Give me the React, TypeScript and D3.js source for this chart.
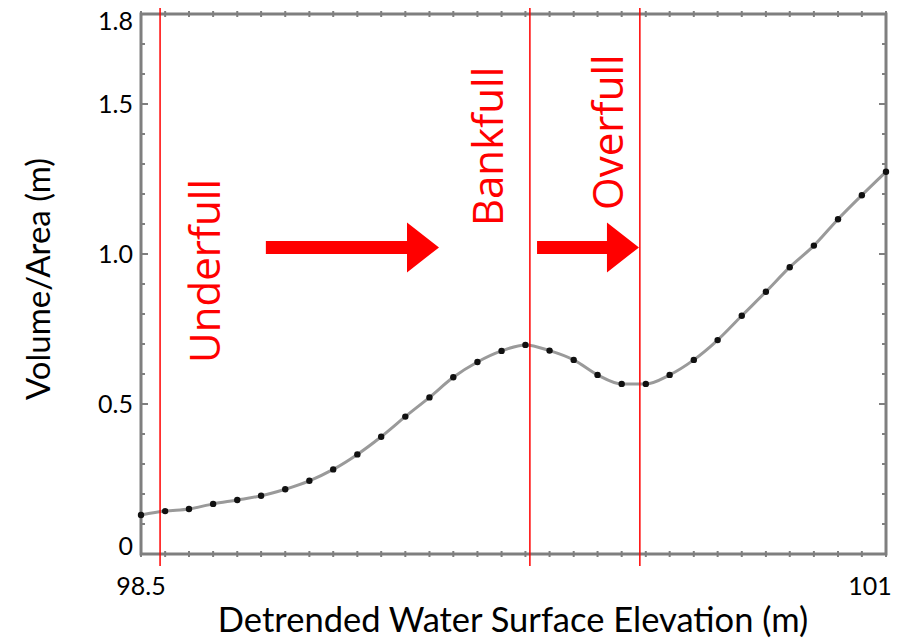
import React, { useEffect, useRef } from 'react';
import * as d3 from 'd3';

// detrended water surface elevation (m)
const elevation = [
  98.5, 98.581, 98.661, 98.742, 98.823, 98.903, 98.984, 99.065, 99.145, 99.226,
  99.306, 99.387, 99.468, 99.548, 99.629, 99.71, 99.79, 99.871, 99.952, 100.032,
  100.113, 100.194, 100.274, 100.355, 100.435, 100.516, 100.597, 100.677, 100.758,
  100.839, 100.919, 101.0,
];

// volume / area (m)
const volumeArea = [
  0.13, 0.143, 0.15, 0.167, 0.18, 0.194, 0.216, 0.244, 0.282, 0.332,
  0.391, 0.458, 0.522, 0.589, 0.64, 0.677, 0.697, 0.678, 0.647, 0.597,
  0.567, 0.567, 0.597, 0.647, 0.713, 0.794, 0.874, 0.956, 1.028, 1.116,
  1.196, 1.274,
];

const yTickValues = [0, 0.5, 1.0, 1.5, 1.8];
const yTickLabels = ['0', '0.5', '1.0', '1.5', '1.8'];
const xTickValues = [98.5, 101];
const xTickLabels = ['98.5', '101'];

const stageNames = ['Underfull', 'Bankfull', 'Overfull'];
const stageLines = [98.564, 99.805, 100.174];
const stageLabelX = [98.765, 99.715, 100.117];
const stageLabelY = [0.637, 1.093, 1.147];

const arrowStart = [98.919, 99.829];
const arrowEnd = [99.5, 100.171];
const arrowLevel = 1.022;

export default function App() {
  const svgRef = useRef<SVGSVGElement>(null);

  useEffect(() => {
    const svg = d3.select(svgRef.current);
    svg.selectAll('*').remove();

    const margin = { top: 14, right: 16, bottom: 85, left: 141 };
    const width = 902;
    const height = 639;
    const innerW = width - margin.left - margin.right;
    const innerH = height - margin.top - margin.bottom;

    const x = d3.scaleLinear().domain([98.5, 101]).range([margin.left, margin.left + innerW]);
    const y = d3.scaleLinear().domain([0, 1.8]).range([margin.top + innerH, margin.top]);

    const axisColor = '#7f7f7f';
    const font = 'Lato, "Open Sans", sans-serif';

    // frame
    svg
      .append('rect')
      .attr('x', margin.left)
      .attr('y', margin.top)
      .attr('width', innerW)
      .attr('height', innerH)
      .attr('fill', 'none')
      .attr('stroke', axisColor)
      .attr('stroke-width', 3);

    // y ticks (every 0.1, major every 0.5)
    const yMinor = d3.range(0, 18.5, 1).map((d) => d / 10);
    yMinor.forEach((v) => {
      const major = Math.abs((v * 10) % 5) < 1e-6;
      const len = major ? 7 : 4;
      svg
        .append('line')
        .attr('x1', margin.left)
        .attr('x2', margin.left + len)
        .attr('y1', y(v))
        .attr('y2', y(v))
        .attr('stroke', axisColor)
        .attr('stroke-width', 2);
      svg
        .append('line')
        .attr('x1', margin.left + innerW)
        .attr('x2', margin.left + innerW - len)
        .attr('y1', y(v))
        .attr('y2', y(v))
        .attr('stroke', axisColor)
        .attr('stroke-width', 2);
    });

    // x ticks at each sample
    elevation.forEach((v) => {
      [margin.top, margin.top + innerH].forEach((yy) => {
        svg
          .append('line')
          .attr('x1', x(v))
          .attr('x2', x(v))
          .attr('y1', yy - 3)
          .attr('y2', yy + 3)
          .attr('stroke', axisColor)
          .attr('stroke-width', 2);
      });
    });

    // tick labels
    svg
      .selectAll('.ylab')
      .data(yTickValues)
      .enter()
      .append('text')
      .attr('x', 133)
      .attr('y', (d) => Math.min(Math.max(y(d), 21), 546))
      .attr('dy', '0.36em')
      .attr('text-anchor', 'end')
      .attr('font-family', font)
      .attr('font-size', 25)
      .attr('fill', '#000')
      .text((d, i) => yTickLabels[i]);

    svg
      .selectAll('.xlab')
      .data(xTickValues)
      .enter()
      .append('text')
      .attr('x', (d) => Math.min(x(d), 870))
      .attr('y', 595)
      .attr('text-anchor', 'middle')
      .attr('font-family', font)
      .attr('font-size', 25)
      .attr('fill', '#000')
      .text((d, i) => xTickLabels[i]);

    // axis titles
    svg
      .append('text')
      .attr('x', 513)
      .attr('y', 632)
      .attr('text-anchor', 'middle')
      .attr('font-family', font)
      .attr('font-size', 34.5)
      .attr('fill', '#000')
      .text('Detrended Water Surface Elevation (m)');

    svg
      .append('text')
      .attr('transform', 'translate(50,279) rotate(-90)')
      .attr('text-anchor', 'middle')
      .attr('font-family', font)
      .attr('font-size', 33)
      .attr('fill', '#000')
      .text('Volume/Area (m)');

    // curve
    const pts = elevation.map((e, i) => [e, volumeArea[i]] as [number, number]);
    const line = d3
      .line<[number, number]>()
      .x((d) => x(d[0]))
      .y((d) => y(d[1]))
      .curve(d3.curveMonotoneX);

    svg
      .append('path')
      .attr('d', line(pts))
      .attr('fill', 'none')
      .attr('stroke', '#9a9a9a')
      .attr('stroke-width', 3);

    svg
      .selectAll('.pt')
      .data(pts)
      .enter()
      .append('circle')
      .attr('cx', (d) => x(d[0]))
      .attr('cy', (d) => y(d[1]))
      .attr('r', 3.2)
      .attr('fill', '#111');

    // stage lines
    const red = '#ff0000';
    stageLines.forEach((v) => {
      svg
        .append('line')
        .attr('x1', x(v))
        .attr('x2', x(v))
        .attr('y1', 8)
        .attr('y2', 566)
        .attr('stroke', red)
        .attr('stroke-width', 1.5);
    });

    // stage labels
    stageNames.forEach((name, i) => {
      svg
        .append('text')
        .attr('transform', `translate(${x(stageLabelX[i])},${y(stageLabelY[i])}) rotate(-90)`)
        .attr('text-anchor', 'start')
        .attr('font-family', '"Open Sans", sans-serif')
        .attr('font-size', 42)
        .attr('fill', red)
        .text(name);
    });

    // arrows
    arrowStart.forEach((s, i) => {
      const x0 = x(s);
      const x1 = x(arrowEnd[i]);
      const yc = y(arrowLevel);
      const headLen = 32;
      const shaft = 6.5;
      const head = 25;
      const xh = x1 - headLen;
      const poly = [
        [x0, yc - shaft],
        [xh, yc - shaft],
        [xh, yc - head],
        [x1, yc],
        [xh, yc + head],
        [xh, yc + shaft],
        [x0, yc + shaft],
      ];
      svg
        .append('polygon')
        .attr('points', poly.map((p) => p.join(',')).join(' '))
        .attr('fill', red);
    });
  }, []);

  return (
    <svg
      ref={svgRef}
      width={902}
      height={639}
      style={{ position: 'absolute', left: 0, top: 0, background: '#fff' }}
    />
  );
}
